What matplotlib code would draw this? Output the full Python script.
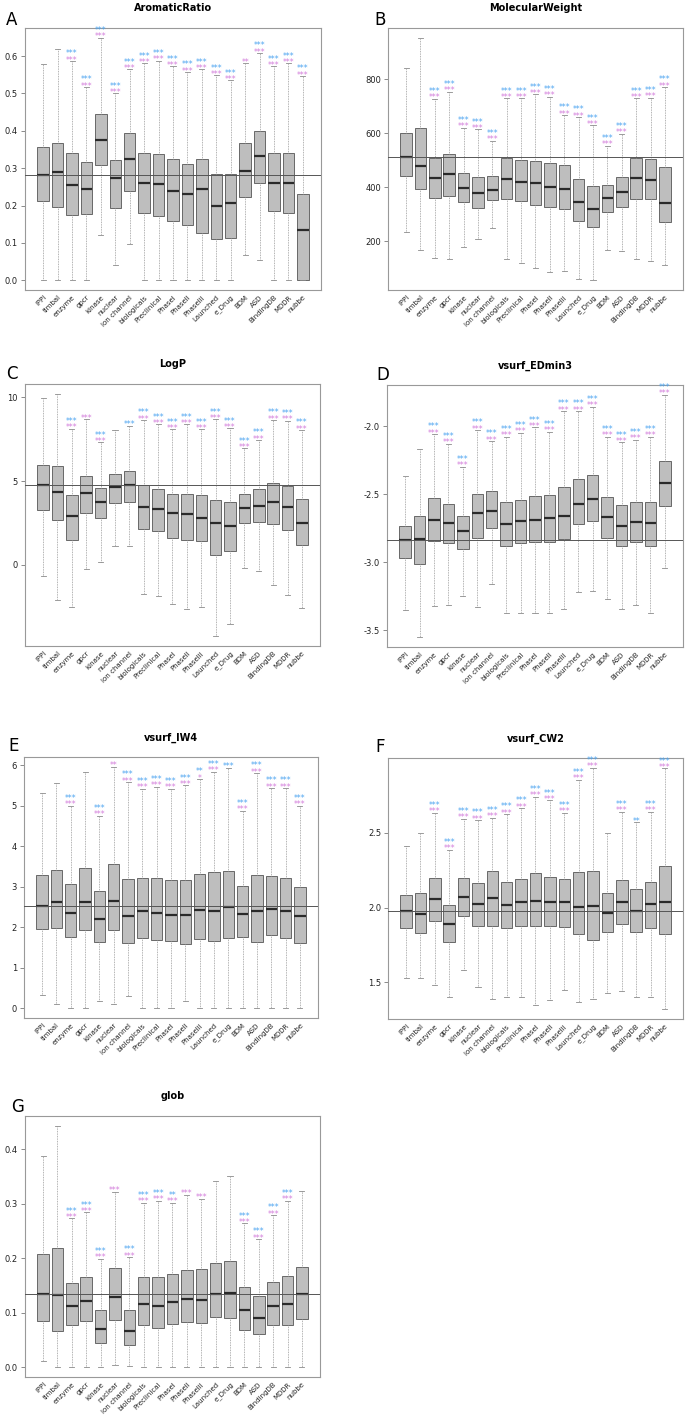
import numpy as np
import matplotlib
matplotlib.use('Agg')
import matplotlib.pyplot as plt

groups = ['iPPI', 'timbal', 'enzyme', 'gpcr', 'kinase', 'nuclear', 'ion channel',
          'biologicals', 'Preclinical', 'PhaseI', 'PhaseII', 'PhaseIII', 'Launched',
          'e_Drug', 'BDM', 'ASD', 'BindingDB', 'MDDR', 'nubbe']

# A - AromaticRatio
ar_low = [0, 0, 0, 0, 0.12, 0.04, 0.097, 0, 0, 0, 0, 0, 0, 0, 0.068, 0.053, 0, 0, 0]
ar_q1 = [0.212, 0.197, 0.175, 0.178, 0.308, 0.193, 0.24, 0.181, 0.172, 0.158, 0.149, 0.126, 0.11, 0.114, 0.224, 0.261, 0.186, 0.181, 0.002]
ar_med = [0.282, 0.29, 0.255, 0.244, 0.375, 0.273, 0.324, 0.261, 0.257, 0.24, 0.231, 0.243, 0.2, 0.206, 0.293, 0.333, 0.261, 0.261, 0.135]
ar_q3 = [0.357, 0.368, 0.34, 0.316, 0.444, 0.322, 0.393, 0.34, 0.339, 0.324, 0.312, 0.325, 0.285, 0.285, 0.366, 0.399, 0.34, 0.34, 0.231]
ar_high = [0.578, 0.62, 0.586, 0.517, 0.649, 0.5, 0.564, 0.58, 0.588, 0.572, 0.557, 0.564, 0.548, 0.535, 0.581, 0.608, 0.572, 0.58, 0.546]
ar_blue = ['', '', '***', '***', '***', '***', '***', '***', '***', '***', '***', '***', '***', '***', '', '***', '***', '***', '***']
ar_pink = ['', '', '***', '***', '***', '***', '***', '***', '***', '***', '***', '***', '***', '***', '**', '***', '***', '***', '***']

# B - MolecularWeight
mw_low = [236, 169, 138, 135, 178, 207, 250, 134, 118, 100, 85, 90, 58, 55, 168, 165, 134, 128, 110]
mw_q1 = [441, 393, 360, 366, 344, 322, 353, 357, 348, 333, 326, 320, 276, 253, 310, 328, 358, 355, 272]
mw_med = [514, 480, 435, 450, 397, 380, 390, 430, 421, 415, 402, 395, 345, 318, 360, 382, 433, 428, 343]
mw_q3 = [601, 619, 510, 522, 454, 438, 442, 508, 502, 498, 492, 482, 432, 405, 408, 437, 508, 506, 476]
mw_high = [843, 955, 728, 755, 620, 615, 573, 730, 730, 745, 735, 668, 660, 630, 555, 598, 730, 733, 772]
mw_blue = [''] * 2 + ['***'] * 17
mw_pink = [''] * 2 + ['***'] * 17

# C - LogP
lp_low = [-0.66, -2.1, -2.49, -0.22, 0.18, 1.11, 1.11, -1.73, -1.85, -2.31, -2.6, -2.52, -4.25, -3.54, -0.2, -0.36, -1.21, -1.77, -2.56]
lp_q1 = [3.3, 2.66, 1.51, 3.1, 2.82, 3.7, 3.76, 2.13, 2.0, 1.61, 1.49, 1.43, 0.62, 0.82, 2.5, 2.56, 2.43, 2.11, 1.21]
lp_med = [4.77, 4.37, 2.9, 4.27, 3.76, 4.65, 4.79, 3.46, 3.34, 3.1, 3.02, 2.8, 2.47, 2.33, 3.42, 3.54, 3.76, 3.44, 2.5]
lp_q3 = [5.98, 5.88, 4.15, 5.31, 4.61, 5.43, 5.59, 4.75, 4.55, 4.21, 4.25, 4.15, 3.86, 3.76, 4.25, 4.51, 4.89, 4.73, 3.9]
lp_high = [9.96, 10.2, 8.1, 8.67, 7.3, 8.03, 8.29, 8.63, 8.37, 8.07, 8.37, 8.07, 8.67, 8.13, 6.94, 7.44, 8.63, 8.59, 8.03]
lp_blue = ['', '', '***', '', '***', '', '***', '***', '***', '***', '***', '***', '***', '***', '***', '***', '***', '***', '***']
lp_pink = ['', '', '***', '***', '***', '', '', '***', '***', '***', '***', '***', '***', '***', '***', '***', '***', '***', '***']

# D - vsurf_EDmin3
ed_low = [-3.35, -3.55, -3.32, -3.31, -3.25, -3.33, -3.16, -3.37, -3.37, -3.37, -3.37, -3.34, -3.22, -3.21, -3.27, -3.34, -3.31, -3.37, -3.04]
ed_q1 = [-2.97, -3.01, -2.84, -2.86, -2.90, -2.82, -2.75, -2.88, -2.86, -2.85, -2.85, -2.83, -2.72, -2.70, -2.82, -2.88, -2.85, -2.88, -2.59]
ed_med = [-2.835, -2.83, -2.69, -2.71, -2.77, -2.64, -2.62, -2.72, -2.70, -2.69, -2.675, -2.66, -2.57, -2.535, -2.67, -2.735, -2.705, -2.715, -2.42]
ed_q3 = [-2.73, -2.66, -2.53, -2.57, -2.66, -2.50, -2.48, -2.56, -2.54, -2.51, -2.505, -2.45, -2.39, -2.36, -2.52, -2.58, -2.555, -2.555, -2.26]
ed_high = [-2.37, -2.17, -2.06, -2.13, -2.30, -2.03, -2.11, -2.08, -2.05, -2.01, -2.04, -1.89, -1.89, -1.86, -2.08, -2.12, -2.10, -2.08, -1.77]
ed_blue = [''] * 2 + ['***'] * 17
ed_pink = [''] * 2 + ['***'] * 17

# E - vsurf_IW4
iw_low = [0.33, 0.1, 0, 0, 0.19, 0.11, 0.30, 0, 0, 0, 0.18, 0, 0, 0, 0, 0, 0, 0, 0]
iw_q1 = [1.95, 1.97, 1.77, 1.92, 1.64, 1.94, 1.61, 1.74, 1.69, 1.65, 1.59, 1.71, 1.67, 1.73, 1.77, 1.64, 1.81, 1.74, 1.62]
iw_med = [2.53, 2.62, 2.35, 2.63, 2.21, 2.64, 2.28, 2.39, 2.35, 2.30, 2.30, 2.42, 2.40, 2.50, 2.33, 2.39, 2.46, 2.39, 2.27]
iw_q3 = [3.29, 3.40, 3.06, 3.46, 2.89, 3.55, 3.20, 3.22, 3.21, 3.17, 3.16, 3.32, 3.35, 3.39, 3.01, 3.30, 3.26, 3.21, 2.98]
iw_high = [5.31, 5.55, 5.0, 5.82, 4.75, 5.96, 5.58, 5.42, 5.47, 5.42, 5.50, 5.65, 5.83, 5.93, 4.87, 5.80, 5.43, 5.43, 5.0]
iw_blue = ['', '', '***', '', '***', '', '***', '***', '***', '***', '***', '**', '***', '***', '***', '***', '***', '***', '***']
iw_pink = ['', '', '***', '', '***', '**', '***', '***', '***', '***', '***', '*', '***', '', '***', '***', '***', '***', '***']

# F - vsurf_CW2
cw_low = [1.531, 1.528, 1.48, 1.40, 1.58, 1.467, 1.392, 1.405, 1.40, 1.352, 1.38, 1.447, 1.37, 1.39, 1.43, 1.44, 1.40, 1.405, 1.32]
cw_q1 = [1.864, 1.83, 1.91, 1.77, 1.941, 1.879, 1.877, 1.866, 1.877, 1.875, 1.877, 1.872, 1.826, 1.786, 1.837, 1.89, 1.84, 1.866, 1.826]
cw_med = [1.977, 1.955, 2.054, 1.892, 2.074, 2.023, 2.063, 2.017, 2.034, 2.047, 2.038, 2.038, 2.007, 2.01, 1.962, 2.04, 1.98, 2.023, 2.04]
cw_q3 = [2.081, 2.10, 2.196, 2.019, 2.198, 2.165, 2.243, 2.17, 2.19, 2.23, 2.203, 2.192, 2.236, 2.243, 2.10, 2.187, 2.125, 2.174, 2.28]
cw_high = [2.409, 2.5, 2.635, 2.387, 2.593, 2.584, 2.60, 2.624, 2.664, 2.74, 2.717, 2.635, 2.855, 2.935, 2.5, 2.642, 2.569, 2.642, 2.93]
cw_blue = ['', '', '***', '***', '***', '***', '***', '***', '***', '***', '***', '***', '***', '***', '', '***', '**', '***', '***']
cw_pink = ['', '', '***', '***', '***', '***', '***', '***', '***', '***', '***', '***', '***', '***', '', '***', '', '***', '***']

# G - glob
gl_low = [0.011, 0, 0, 0, 0, 0.004, 0.002, 0, 0, 0, 0, 0, 0, 0, 0, 0, 0, 0, 0]
gl_q1 = [0.085, 0.066, 0.077, 0.085, 0.045, 0.087, 0.041, 0.077, 0.072, 0.079, 0.084, 0.081, 0.092, 0.090, 0.068, 0.061, 0.077, 0.077, 0.088]
gl_med = [0.135, 0.133, 0.113, 0.121, 0.070, 0.129, 0.067, 0.116, 0.113, 0.119, 0.1255, 0.123, 0.135, 0.136, 0.106, 0.091, 0.113, 0.116, 0.135]
gl_q3 = [0.208, 0.219, 0.154, 0.165, 0.1055, 0.182, 0.1055, 0.166, 0.165, 0.171, 0.178, 0.180, 0.192, 0.195, 0.147, 0.131, 0.156, 0.168, 0.184]
gl_high = [0.387, 0.443, 0.273, 0.284, 0.199, 0.322, 0.202, 0.302, 0.305, 0.302, 0.316, 0.309, 0.342, 0.351, 0.264, 0.235, 0.279, 0.305, 0.324]
gl_blue = ['', '', '***', '***', '***', '', '***', '***', '***', '**', '', '', '', '', '***', '***', '***', '***', '']
gl_pink = ['', '', '***', '***', '***', '***', '***', '***', '***', '***', '***', '***', '', '', '***', '***', '***', '***', '']

W, H = 685, 1416
fig = plt.figure(figsize=(W / 100, H / 100), dpi=100)
fig.patch.set_facecolor('white')


def rect(x0, y0, x1, y1):
    return [x0 / W, 1 - y1 / H, (x1 - x0) / W, (y1 - y0) / H]


def panel(box, letter, lpos, title, low, q1, med, q3, high, blue, pink, yticks, fmt):
    ax = fig.add_axes(rect(*box))
    pos = np.arange(1, len(groups) + 1)
    stats = [dict(whislo=a, q1=b, med=c, q3=d, whishi=e, label=g)
             for a, b, c, d, e, g in zip(low, q1, med, q3, high, groups)]
    ax.bxp(stats, positions=pos, widths=0.8, showfliers=False, patch_artist=True,
           capwidths=0.35,
           boxprops=dict(facecolor='#bebebe', edgecolor='#555555', linewidth=0.6),
           medianprops=dict(color='#2a2a2a', linewidth=1.6, solid_capstyle='butt'),
           whiskerprops=dict(color='#999999', linewidth=0.6, linestyle=(0, (1, 1))),
           capprops=dict(color='#8a8a8a', linewidth=0.6))
    ax.axhline(med[0], color='#555555', lw=0.7, zorder=5)

    # significance stars above upper whisker
    for x, h, b, p in zip(pos, high, blue, pink):
        if p:
            ax.annotate(p, (x, h), xytext=(0, -2.5), textcoords='offset points',
                        ha='center', va='bottom', fontsize=5.5, color='#d27ada',
                        annotation_clip=False)
        if b:
            ax.annotate(b, (x, h), xytext=(0, 2.0 if p else -2.5), textcoords='offset points',
                        ha='center', va='bottom', fontsize=5.5, color='#4aa3f0',
                        annotation_clip=False)

    lo, hi = min(low), max(high)
    r = hi - lo
    ax.set_ylim(lo - 0.04 * r, hi + 0.04 * r)
    ax.set_xlim(0.5 - 0.04 * 19, 19.5 + 0.04 * 19)
    ax.set_yticks(yticks)
    ax.set_yticklabels([fmt % v for v in yticks])
    ax.set_xticks(pos)
    ax.set_xticklabels(groups, rotation=45, ha='right', rotation_mode='anchor', fontsize=5)
    ax.tick_params(axis='x', length=0, pad=3, colors='#222222')
    ax.tick_params(axis='y', length=3, width=0.6, color='#777777', labelsize=6,
                   labelcolor='#222222', pad=2)
    for s in ax.spines.values():
        s.set_color('#999999')
        s.set_linewidth(0.8)
    ax.set_title(title, fontsize=7, fontweight='bold', pad=12)
    fig.text(lpos[0] / W, 1 - lpos[1] / H, letter, fontsize=12, ha='center', va='center')
    return ax


panel((25, 28, 321, 290), 'A', (12, 20), 'AromaticRatio', ar_low, ar_q1, ar_med, ar_q3, ar_high,
      ar_blue, ar_pink, [0, 0.1, 0.2, 0.3, 0.4, 0.5, 0.6], '%.1f')
panel((388, 28, 683, 290), 'B', (380, 20), 'MolecularWeight', mw_low, mw_q1, mw_med, mw_q3, mw_high,
      mw_blue, mw_pink, [200, 400, 600, 800], '%d')
panel((25, 384, 320, 646), 'C', (12, 374), 'LogP', lp_low, lp_q1, lp_med, lp_q3, lp_high,
      lp_blue, lp_pink, [0, 5, 10], '%d')
panel((387, 385, 683, 647), 'D', (383, 375), 'vsurf_EDmin3', ed_low, ed_q1, ed_med, ed_q3, ed_high,
      ed_blue, ed_pink, [-3.5, -3.0, -2.5, -2.0], '%.1f')
panel((24, 757, 318, 1018), 'E', (14, 746), 'vsurf_IW4', iw_low, iw_q1, iw_med, iw_q3, iw_high,
      iw_blue, iw_pink, [0, 1, 2, 3, 4, 5, 6], '%d')
panel((388, 758, 683, 1019), 'F', (380, 747), 'vsurf_CW2', cw_low, cw_q1, cw_med, cw_q3, cw_high,
      cw_blue, cw_pink, [1.5, 2.0, 2.5], '%.1f')
panel((25, 1116, 320, 1377), 'G', (18, 1107), 'glob', gl_low, gl_q1, gl_med, gl_q3, gl_high,
      gl_blue, gl_pink, [0.0, 0.1, 0.2, 0.3, 0.4], '%.1f')

fig.savefig('out.png', dpi=100)
